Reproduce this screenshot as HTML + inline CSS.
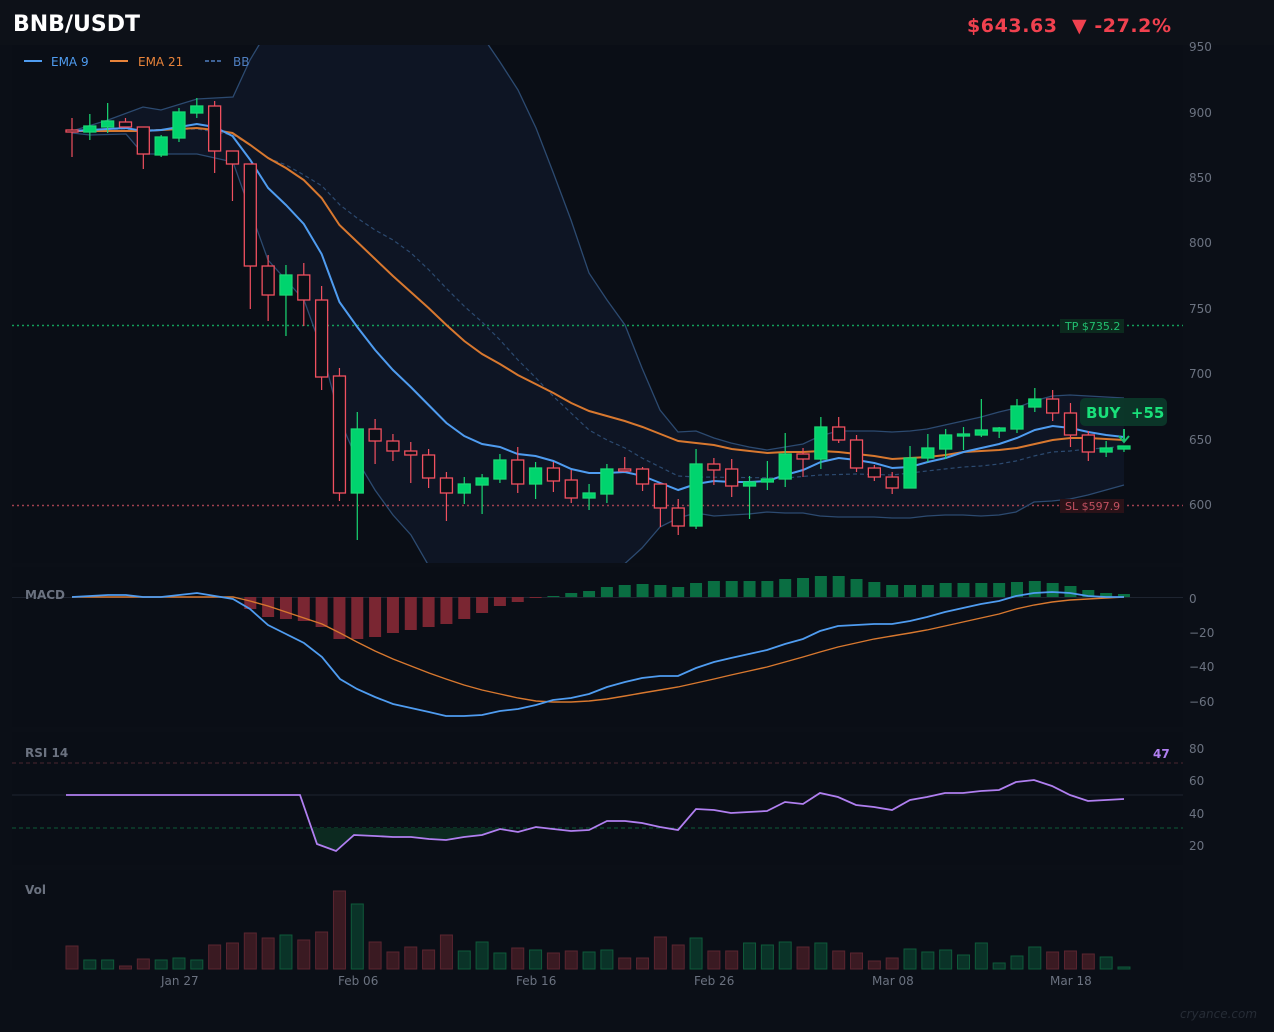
<!DOCTYPE html>
<html><head><meta charset="utf-8"><style>
html,body{margin:0;padding:0;background:#0b0f17;}
body{width:1274px;height:1032px;overflow:hidden;position:relative;font-family:"DejaVu Sans","Liberation Sans",sans-serif;}
svg{position:absolute;left:0;top:0;}
</style></head><body>
<svg id="s" width="1274" height="1032" viewBox="0 0 1274 1032" xmlns="http://www.w3.org/2000/svg" font-family="DejaVu Sans, Liberation Sans, sans-serif">
<defs><clipPath id="mc"><rect x="12" y="45" width="1171" height="518"/></clipPath></defs>
<rect x="0" y="0" width="1274" height="1032" fill="#0b0f17"/>
<rect x="0" y="0" width="1274" height="45" fill="#0d1118"/>
<rect x="12" y="45" width="1171" height="518" fill="#0a0e16"/>
<rect x="12" y="567" width="1171" height="160" fill="#0a0e16"/>
<rect x="12" y="732" width="1171" height="133" fill="#0a0e16"/>
<rect x="12" y="870" width="1171" height="100" fill="#0a0e16"/>
<g id="bbfill" clip-path="url(#mc)"></g>
<g id="grid" stroke="#141a24" stroke-width="1"></g>
<line x1="12" y1="325.5" x2="1183" y2="325.5" stroke="#12a05a" stroke-width="1.5" stroke-dasharray="2,3"/>
<line x1="12" y1="505.5" x2="1183" y2="505.5" stroke="#a0404f" stroke-width="1.5" stroke-dasharray="2,3"/>
<g id="lines" clip-path="url(#mc)"></g>
<g id="candles"></g>
<rect x="1060" y="319" width="64" height="14" fill="#0c2a1e"/>
<text x="1065" y="330" font-size="11" fill="#22c070">TP $735.2</text>
<rect x="1060" y="499" width="64" height="14" fill="#2a1218"/>
<text x="1065" y="510" font-size="11" fill="#c05060">SL $597.9</text>
<rect x="1080" y="398" width="87" height="28" rx="5" fill="#0b3a2a" opacity="0.9"/>
<text x="1086" y="418" font-size="15" font-weight="bold" fill="#19e07a" xml:space="preserve">BUY  +55</text>
<line x1="1124" y1="429" x2="1124" y2="441" stroke="#19c070" stroke-width="2"/>
<path d="M1119 436 L1124 442 L1129 436" fill="none" stroke="#19c070" stroke-width="2"/>
<g id="macd"></g>
<g id="rsi"></g>
<g id="vol"></g>
<text x="13" y="31" font-size="22" font-weight="bold" fill="#ffffff">BNB/USDT</text>
<text x="967" y="32" font-size="19" font-weight="bold" fill="#f0414f" xml:space="preserve" textLength="204" lengthAdjust="spacing">$643.63  ▼ -27.2%</text>
<line x1="24" y1="61" x2="42" y2="61" stroke="#4f9cf0" stroke-width="2"/>
<text x="51" y="66" font-size="12" fill="#4f9cf0">EMA 9</text>
<line x1="110" y1="61" x2="128" y2="61" stroke="#e8833a" stroke-width="2"/>
<text x="138" y="66" font-size="12" fill="#e8833a">EMA 21</text>
<line x1="205" y1="61" x2="223" y2="61" stroke="#4f7fc0" stroke-width="1.5" stroke-dasharray="4,2"/>
<text x="233" y="66" font-size="12" fill="#4f7fc0">BB</text>
<g font-size="12" fill="#6b7280">
<text x="1189" y="51">950</text><text x="1189" y="117">900</text><text x="1189" y="182">850</text><text x="1189" y="247">800</text><text x="1189" y="313">750</text><text x="1189" y="378">700</text><text x="1189" y="444">650</text><text x="1189" y="509">600</text>
<text x="1189" y="603">0</text><text x="1189" y="637">−20</text><text x="1189" y="671">−40</text><text x="1189" y="706">−60</text>
<text x="1189" y="753">80</text><text x="1189" y="785">60</text><text x="1189" y="818">40</text><text x="1189" y="850">20</text>
<text x="161" y="985">Jan 27</text><text x="338" y="985">Feb 06</text><text x="516" y="985">Feb 16</text><text x="694" y="985">Feb 26</text><text x="872" y="985">Mar 08</text><text x="1050" y="985">Mar 18</text>
</g>
<text x="25" y="599" font-size="12" font-weight="bold" fill="#6b7280">MACD</text>
<text x="25" y="757" font-size="12" font-weight="bold" fill="#6b7280">RSI 14</text>
<text x="25" y="894" font-size="12" font-weight="bold" fill="#6b7280">Vol</text>
<text x="1153" y="758" font-size="12" font-weight="bold" fill="#b07ff0">47</text>
<text x="1180" y="1018" font-size="12" font-style="italic" fill="#262c36">cryance.com</text>
</svg>
<script>
var NS="http://www.w3.org/2000/svg";
function el(p,t,a){var e=document.createElementNS(NS,t);for(var k in a)e.setAttribute(k,a[k]);document.getElementById(p).appendChild(e);return e;}
var X=[];for(var i=0;i<60;i++)X.push(72+17.83*i);
var C=[[130,132,118,157,0],[126,132,114,140,1],[121,127,103,133,1],[122,127,118,127,0],[127,154,127,169,0],[137,155,135,157,1],[112,138,108,142,1],[106,113,98,118,1],[106,151,101,173,0],[151,164,151,201,0],
[164,266,164,309,0],[266,295,255,321,0],[275,295,265,336,1],[275,300,263,326,0],[300,377,286,390,0],[376,493,368,501,0],[429,493,412,540,1],[429,441,419,464,0],[441,451,434,461,0],[451,455,442,483,0],
[455,478,449,488,0],[478,493,472,521,0],[484,493,477,504,1],[478,485,474,514,1],[460,479,454,483,1],[460,484,447,493,0],[468,484,462,499,1],[468,481,462,492,0],[480,498,470,503,0],[493,498,484,510,1],
[469,494,464,503,1],[469,470,457,472,0],[469,484,467,491,0],[484,508,484,527,0],[508,526,499,535,0],[464,526,449,529,1],[464,470,458,485,0],[469,486,459,497,0],[482,486,476,519,1],[479,482,461,490,1],
[454,479,433,487,1],[454,459,448,477,0],[427,459,417,469,1],[427,440,417,443,0],[440,468,435,472,0],[468,477,465,481,0],[477,488,472,494,0],[458,488,446,488,1],[448,458,434,462,1],[435,449,429,459,1],
[434,436,427,450,1],[430,435,399,437,1],[428,431,427,438,1],[406,429,399,433,1],[399,407,388,412,1],[399,413,390,421,0],[413,435,403,447,0],[435,452,431,461,0],[448,452,441,457,1],[446,449,446,452,1]];
function pts(a){return a.map(function(p){return p[0]+","+p[1];}).join(" ");}
var up=[[72,131],[108,120],[143,107],[161,110],[197,99],[233,97],[250,60],[262,40],[485,40],[500,62],[518,90],[536,128],[553,172],[571,220],[589,273],[607,300],[625,325],[642,368],[660,410],[678,432],[696,431],[714,438],[731,443],[749,447],[767,450],[785,447],[803,444],[820,436],[838,431],[856,431],[874,431],[892,432],[910,431],[927,429],[945,425],[963,421],[981,417],[999,412],[1016,408],[1034,401],[1052,396],[1070,395],[1088,396],[1106,397],[1124,398]];
var lo=[[72,133],[90,135],[126,134],[143,154],[197,154],[215,158],[233,162],[250,210],[268,260],[286,280],[304,300],[322,350],[340,420],[357,460],[375,490],[393,515],[411,535],[430,568],[620,568],[642,548],[660,527],[678,518],[696,513],[714,516],[731,515],[749,514],[767,512],[785,513],[803,513],[820,516],[838,517],[856,517],[874,517],[892,518],[910,518],[927,516],[945,515],[963,515],[981,516],[999,515],[1016,512],[1034,502],[1052,501],[1070,499],[1088,495],[1106,490],[1124,485]];
var mid=[[72,131],[197,129],[233,135],[250,145],[268,158],[286,165],[304,175],[322,186],[340,205],[357,218],[375,230],[393,240],[411,253],[429,270],[446,288],[464,306],[482,322],[500,340],[518,360],[536,378],[553,396],[571,413],[589,430],[607,440],[625,448],[642,458],[660,467],[678,476],[696,477],[785,478],[820,475],[856,474],[892,475],[910,473],[927,471],[945,469],[963,467],[981,466],[999,464],[1016,461],[1034,456],[1052,452],[1070,451],[1088,449],[1106,448],[1124,446]];
el("bbfill","polygon",{points:pts(up.concat(lo.slice().reverse())),fill:"#0e1524"});
el("lines","polyline",{points:pts(up),fill:"none",stroke:"#2c4a70","stroke-width":1.3});
el("lines","polyline",{points:pts(lo),fill:"none",stroke:"#2c4a70","stroke-width":1.3});
el("lines","polyline",{points:pts(mid),fill:"none",stroke:"#2c4a70","stroke-width":1.2,"stroke-dasharray":"4,3"});
var e9=[131,130,129,128,131,130,127,124,127,136,160,188,205,224,254,302,327,350,370,387,405,423,436,444,447,454,456,461,469,473,473,472,476,483,490,484,481,482,482,481,475,470,462,458,460,463,468,467,462,458,452,448,444,438,430,426,428,432,435,437];
var e21=[131,131,131,131,131,130,129,128,130,133,145,158,168,180,198,225,242,259,276,292,308,325,341,354,364,375,384,393,403,411,416,421,427,434,441,443,445,449,451,453,452,452,451,452,454,456,459,458,457,455,452,451,450,448,444,440,438,438,439,440];
el("lines","polyline",{points:pts(e21.map(function(v,i){return[X[i],v];})),fill:"none",stroke:"#d8782f","stroke-width":2});
el("lines","polyline",{points:pts(e9.map(function(v,i){return[X[i],v];})),fill:"none",stroke:"#4f9cf0","stroke-width":2});
C.forEach(function(c,i){var x=X[i],col=c[4]?"#19d873":"#f0505f";
el("candles","line",{x1:x,y1:c[2],x2:x,y2:c[3],stroke:col,"stroke-width":1.2});
var h=Math.max(c[1]-c[0],2);
el("candles","rect",{x:x-6,y:c[0],width:12,height:h,fill:c[4]?"#00d46e":"#0b0f17",stroke:col,"stroke-width":1.3});});
el("grid","line",{x1:12,y1:763,x2:1183,y2:763,stroke:"#4a2530","stroke-dasharray":"4,3"});
el("grid","line",{x1:12,y1:828,x2:1183,y2:828,stroke:"#0f5a38","stroke-dasharray":"4,3"});
el("grid","line",{x1:12,y1:795,x2:1183,y2:795,stroke:"#1e2430"});
el("grid","line",{x1:12,y1:597.5,x2:1183,y2:597.5,stroke:"#1e2430"});
var hb=[597,597,597,597,597,597,597,597,597,597,609,617,619,621,627,639,639,637,633,630,627,624,619,613,606,602,598,596,593,591,587,585,584,585,587,583,581,581,581,581,579,578,576,576,579,582,585,585,585,583,583,583,583,582,581,583,586,590,593,594];
hb.forEach(function(v,i){if(v==597)return;var t=Math.min(v,597),h=Math.abs(v-597);el("macd","rect",{x:X[i]-6,y:t,width:12,height:h,fill:v>597?"#7a2632":"#0a6e42"});});
var ml=[[72,597],[108,595],[126,595],[143,597],[161,597],[197,593],[233,599],[250,609],[268,625],[286,634],[304,643],[322,657],[340,679],[357,689],[375,697],[393,704],[411,708],[429,712],[446,716],[464,716],[482,715],[500,711],[518,709],[536,705],[553,700],[571,698],[589,694],[607,687],[625,682],[642,678],[660,676],[678,676],[696,668],[714,662],[731,658],[749,654],[767,650],[785,644],[803,639],[820,631],[838,626],[856,625],[874,624],[892,624],[910,621],[927,617],[945,612],[963,608],[981,604],[999,601],[1016,596],[1034,593],[1052,592],[1070,593],[1088,596],[1106,597],[1124,597]];
var sl=[[72,597],[233,597],[250,601],[268,606],[286,612],[304,618],[322,624],[340,633],[357,642],[375,651],[393,659],[411,666],[429,673],[446,679],[464,685],[482,690],[500,694],[518,698],[536,701],[553,702],[571,702],[589,701],[607,699],[625,696],[642,693],[660,690],[678,687],[696,683],[714,679],[731,675],[749,671],[767,667],[785,662],[803,657],[820,652],[838,647],[856,643],[874,639],[892,636],[910,633],[927,630],[945,626],[963,622],[981,618],[999,614],[1016,609],[1034,605],[1052,602],[1070,600],[1088,599],[1106,598],[1124,597]];
el("macd","polyline",{points:pts(sl),fill:"none",stroke:"#d8782f","stroke-width":1.4});
el("macd","polyline",{points:pts(ml),fill:"none",stroke:"#4f9cf0","stroke-width":1.8});
var rl=[[66,795],[300,795],[317,844],[336,851],[354,835],[375,836],[393,837],[411,837],[429,839],[446,840],[464,837],[482,835],[500,829],[518,832],[536,827],[553,829],[571,831],[589,830],[607,821],[625,821],[642,823],[660,827],[678,830],[696,809],[714,810],[731,813],[749,812],[767,811],[785,802],[803,804],[820,793],[838,797],[856,805],[874,807],[892,810],[910,800],[927,797],[945,793],[963,793],[981,791],[999,790],[1016,782],[1034,780],[1052,786],[1070,795],[1088,801],[1106,800],[1124,799]];
el("rsi","polygon",{points:"312,828 "+pts(rl.slice(2,12))+" 500,828",fill:"#0c2a20"});
el("rsi","polyline",{points:pts(rl),fill:"none",stroke:"#b07ff0","stroke-width":1.8});
var vt=[946,960,960,966,959,960,958,960,945,943,933,938,935,940,932,891,904,942,952,947,950,935,951,942,953,948,950,953,951,952,950,958,958,937,945,938,951,951,943,945,942,947,943,951,953,961,958,949,952,950,955,943,963,956,947,952,951,954,957,967];
vt.forEach(function(v,i){var g=C[i][4];el("vol","rect",{x:X[i]-6,y:v,width:12,height:969-v,fill:g?"#0a3328":"#3a1a22",stroke:g?"#0f5a3a":"#5a2530","stroke-width":1});});
</script>
</body></html>
